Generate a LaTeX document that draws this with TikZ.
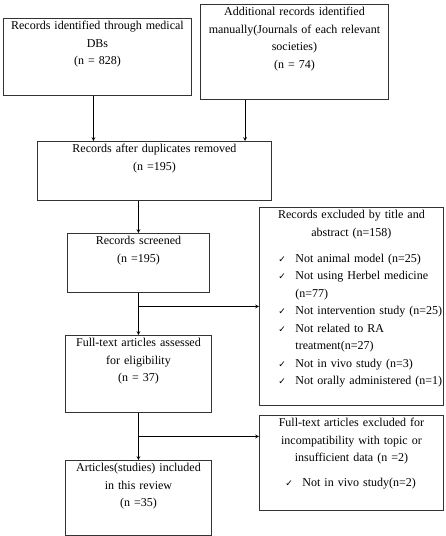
\documentclass[tikz,border=0pt]{standalone}
\usepackage{fontspec}
\setmainfont{Liberation Serif}
\newfontfamily\chkfont{DejaVu Sans}
\newcommand{\exitem}[2][0pt]{\par\noindent\hspace*{#1}\makebox[34pt][l]{\hspace{17pt}{\chkfont\small ✓}}\mbox{#2}}
\newcommand{\excont}[1]{\par\noindent\hspace*{34pt}\mbox{#1}}
\begin{document}
\begin{tikzpicture}[x=1pt, y=-1pt, >=stealth,
  every node/.style={font=\fontsize{12}{17.5}\selectfont},
  box/.style={draw=black!80, line width=0.9pt, anchor=north west, align=center,
    inner xsep=4pt, inner ysep=2.5pt, text height=9pt},
  exclbox/.style={box, align=left, inner xsep=2pt, text width=180pt},
  link/.style={->, line width=0.7pt}]
  \useasboundingbox (0,0) rectangle (445,536);
  \fill[white] (0,0) rectangle (445,536);

  % identification
  \node[box, text width=180pt, text depth=63pt] (dbs) at (3,18)
    {Records identified through medical\\ DBs\\ (n = 828)};
  \node[box, text width=180pt, text depth=81pt] (manual) at (200,4)
    {Additional records identified\\ manually(Journals of each relevant\\ societies)\\ (n = 74)};

  % screening
  \node[box, text width=226pt, text depth=45pt] (dup) at (37,141)
    {Records after duplicates removed\\ (n =195)};
  \node[box, text width=134pt, text depth=45pt] (screened) at (67,233)
    {Records screened\\ (n =195)};
  \node[exclbox, text depth=184pt] (excl1) at (259,207)
    {{\centering Records excluded by title and\\ abstract (n=158)\par}
     \vspace{8.5pt}
     \exitem{Not animal model (n=25)}
     \exitem{Not using Herbel medicine}
     \excont{(n=77)}
     \exitem{Not intervention study (n=25)}
     \exitem{Not related to RA}
     \excont{treatment(n=27)}
     \exitem{Not in vivo study (n=3)}
     \exitem{Not orally administered (n=1)}};

  % eligibility and inclusion
  \node[box, text width=138pt, text depth=63pt] (fulltext) at (65,335)
    {Full-text articles assessed\\ for eligibility\\ (n = 37)};
  \node[exclbox, text depth=81pt] (excl2) at (259,415)
    {{\centering Full-text articles excluded for\\ incompatibility with topic or\\ insufficient data (n =2)\par}
     \vspace{7.5pt}
     \exitem[7pt]{Not in vivo study(n=2)}};
  \node[box, text width=138pt, text depth=61pt] (included) at (65,460)
    {Articles(studies) included\\ in this review\\ (n =35)};

  \coordinate (dbsout) at ([xshift=-4]dbs.south);
  \coordinate (manout) at ([xshift=45]manual.south west);
  \path (fulltext.south) -- (included.north) coordinate[pos=0.5] (split);

  \draw[link] (dbsout) -- (dbsout |- dup.north);
  \draw[link] (manout) -- (manout |- dup.north);
  \draw[link] (screened.north |- dup.south) -- (screened.north);
  \draw[link] (screened) -- (fulltext);
  \draw[link] (screened.south |- excl1.west) -- (excl1.west);
  \draw[link] (fulltext) -- (included);
  \draw[link] (split) -- (split -| excl2.west);
\end{tikzpicture}
\end{document}
